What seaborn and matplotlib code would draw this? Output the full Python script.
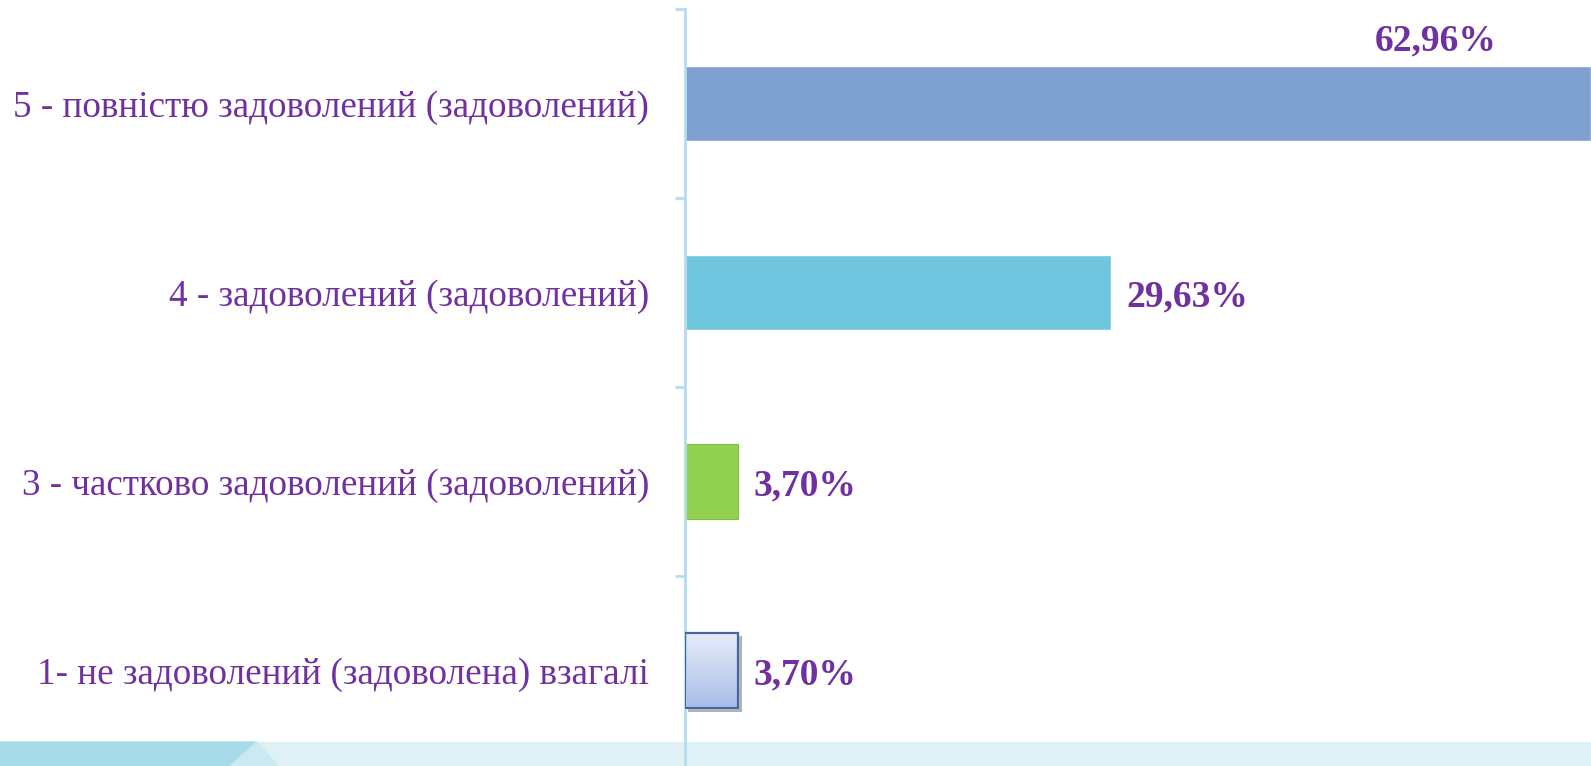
import matplotlib
matplotlib.use("Agg")
from matplotlib import pyplot as plt
from matplotlib.patches import Polygon, Rectangle
import matplotlib.patheffects as pe
import numpy as np
import pandas as pd
import seaborn as sns

# дані
categories = ["5 - повністю задоволений (задоволений)",
              "4 - задоволений (задоволений)",
              "3 - частково задоволений (задоволений)",
              "1- не задоволений (задоволена) взагалі"]
values = [62.96, 29.63, 3.70, 3.70]
value_labels = ["62,96%", "29,63%", "3,70%", "3,70%"]
bar_colors = ["#7fa1d0", "#70c6de", "#92d050", "#c9d4f1"]

purple = "#7030a0"
axis_blue = "#b3ddef"

df = pd.DataFrame({"cat": categories, "val": values})

sns.set_style("white")
plt.rcParams['font.family'] = ['Liberation Serif', 'DejaVu Serif']

fig = plt.figure(figsize=(15.91, 7.66), dpi=100)

# декоративна смуга внизу
W, H = 1591, 766
def px(pts):
    return [(x / W, 1 - y / H) for x, y in pts]
fig.patches.append(Polygon(px([(0, 742), (257, 742), (230, 766), (0, 766)]),
                           closed=True, transform=fig.transFigure, color="#a8dbe9", zorder=0))
fig.patches.append(Polygon(px([(257, 742), (W, 742), (W, 766), (278, 766)]),
                           closed=True, transform=fig.transFigure, color="#e0f1f6", zorder=0))
fig.patches.append(Polygon(px([(257, 742), (278, 766), (230, 766)]),
                           closed=True, transform=fig.transFigure, color="#cbe9f2", zorder=0))

ax = fig.add_axes([685 / W, 1 / H, 1 - 685 / W, (765 - 9) / H])
ax.set_facecolor("none")
ax.set_zorder(2)

sns.barplot(data=df, x="val", y="cat", hue="cat", palette=bar_colors,
            orient="h", width=0.40, legend=False, ax=ax, saturation=1)

# стилі окремих стовпців
bars = ax.patches
bars[2].set_edgecolor("#7fbf3f")
bars[2].set_linewidth(0.8)
b = bars[3]
b.set_zorder(1.5)
b.set_path_effects([pe.SimplePatchShadow(offset=(2.5, -2.5), shadow_rgbFace="#555555", alpha=0.45),
                    pe.Normal()])
grad = np.linspace(0, 1, 100).reshape(-1, 1)
cmap = matplotlib.colors.LinearSegmentedColormap.from_list("g", ["#e8ecf9", "#a9bde9"])
ax.imshow(grad, cmap=cmap, aspect="auto", zorder=2,
          extent=(b.get_x(), b.get_x() + b.get_width(), b.get_y(), b.get_y() + b.get_height()),
          origin="lower")
ax.add_patch(Rectangle((b.get_x(), b.get_y()), b.get_width(), b.get_height(),
                       fill=False, edgecolor="#41689f", linewidth=1.6, zorder=3))
ax.set_xlim(0, 62.96)
ax.set_ylim(3.5, -0.5)

# підписи значень
for i, (v, lab) in enumerate(zip(values, value_labels)):
    if i == 0:
        ax.annotate(lab, (v, i), xytext=(-112, 45), textcoords="offset points",
                    ha="center", va="center", fontsize=27, fontweight="bold", color=purple)
    else:
        ax.annotate(lab, (v, i), xytext=(11, -3), textcoords="offset points",
                    ha="left", va="center", fontsize=27, fontweight="bold", color=purple)

# осі
sns.despine(ax=ax, top=True, right=True, bottom=True, left=False)
ax.spines["left"].set_color(axis_blue)
ax.spines["left"].set_linewidth(2)
ax.set_xlabel("")
ax.set_ylabel("")
ax.set_xticks([])
ax.tick_params(axis="y", which="major", left=False, length=0, pad=26, labelsize=26.7, labelcolor=purple)
ax.set_yticks(np.arange(-0.5, 3.0, 1.0), minor=True)
ax.tick_params(axis="y", which="minor", left=True, length=7.5, width=2, color=axis_blue, direction="out")
ax.spines["left"].set_bounds(-0.5, 3.5)

fig.savefig("out.png", dpi=100)
